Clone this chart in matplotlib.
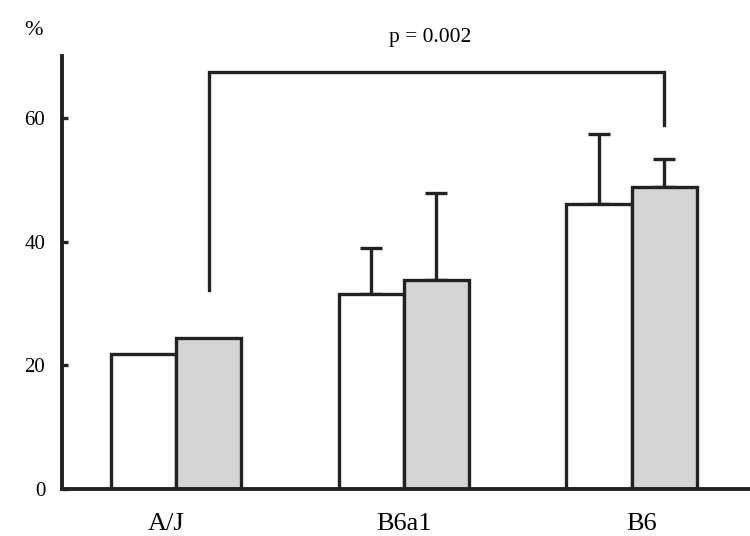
import matplotlib.pyplot as plt
import matplotlib.transforms as mtransforms
import numpy as np

groups = ['A/J', 'B6a1', 'B6']
white_vals = [21.8, 31.6, 46.1]
white_err = [0, 7.4, 11.3]
gray_vals = [24.4, 33.8, 48.9]
gray_err = [0, 14.1, 4.5]
p_text = 'p = 0.002'

plt.rcParams['font.family'] = ['Liberation Serif', 'DejaVu Serif']

ec = '#222222'
lw = 2.4
w = 0.286
x = np.arange(len(groups))

fig = plt.figure(figsize=(7.5, 5.36), dpi=100)
ax = fig.add_axes([0.0827, 0.0877, 0.9173, 0.8078])

ax.bar(x - w / 2, white_vals, w, color='white', edgecolor=ec, linewidth=lw, zorder=2)
ax.bar(x + w / 2, gray_vals, w, color='#d4d4d4', edgecolor=ec, linewidth=lw, zorder=2)

# upper error bars only, and only where there is one
for xs, vals, errs in [(x - w / 2, white_vals, white_err), (x + w / 2, gray_vals, gray_err)]:
    vals = np.array(vals)
    errs = np.array(errs)
    m = errs > 0
    ax.errorbar(xs[m], vals[m], yerr=[np.zeros(m.sum()), errs[m]], fmt='none',
                ecolor=ec, elinewidth=lw, capsize=8, capthick=lw, zorder=1)

# significance bracket between gray A/J and gray B6
bx1, bx2 = x[0] + w / 2, x[2] + w / 2
ax.plot([bx1, bx1, bx2, bx2], [32.1, 67.4, 67.4, 58.9], color=ec, lw=lw,
        solid_joinstyle='miter', clip_on=False)
ax.text(0.535, 1.042, p_text, transform=ax.transAxes, ha='center', va='center',
        fontsize=15.5)

ax.set_xlim(-0.5, 2.52)
ax.set_ylim(0, 70)
ax.set_xticks(x)
ax.set_xticklabels(groups, fontsize=19)
ax.set_yticks([0, 20, 40, 60])
ax.set_yticklabels(['0', '20', '40', '60'], fontsize=15)
ax.tick_params(axis='x', length=0, pad=17)
ax.tick_params(axis='y', direction='in', length=4, width=lw, color=ec, pad=12)

# labels in the original are not exactly centred on the groups
shifts = [-10, 0, 10]
for lab, dx in zip(ax.get_xticklabels(), shifts):
    lab.set_transform(lab.get_transform() +
                      mtransforms.ScaledTranslation(dx / 100, 0, fig.dpi_scale_trans))

ax.text(-0.041, 1.058, '%', transform=ax.transAxes, ha='center', va='center',
        fontsize=16)

for s in ['top', 'right']:
    ax.spines[s].set_visible(False)
for s in ['left', 'bottom']:
    ax.spines[s].set_linewidth(lw + 0.4)
    ax.spines[s].set_color(ec)

fig.savefig('out.png', dpi=100)
